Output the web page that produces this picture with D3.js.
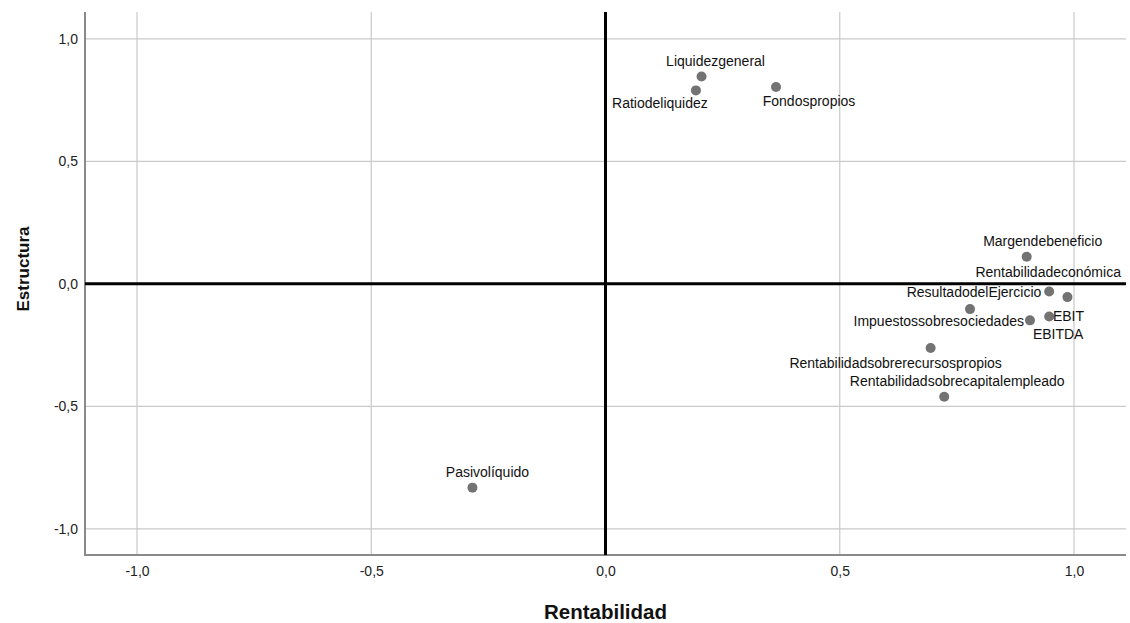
<!DOCTYPE html>
<html>
<head>
<meta charset="utf-8">
<script src="https://cdn.jsdelivr.net/npm/d3@7"></script>
<style>
  html, body { margin: 0; padding: 0; background: #fff; }
  svg { display: block; font-family: "Liberation Sans", Arial, sans-serif; }
</style>
</head>
<body>
<svg id="chart" width="1130" height="623"></svg>
<script>
// Component loadings: Rentabilidad (x) vs Estructura (y)
const variables = [
  "Liquidezgeneral", "Ratiodeliquidez", "Fondospropios",
  "Margendebeneficio", "Rentabilidadeconómica", "EBIT",
  "ResultadodelEjercicio", "EBITDA", "Impuestossobresociedades",
  "Rentabilidadsobrerecursospropios", "Rentabilidadsobrecapitalempleado",
  "Pasivolíquido"
];
const rentabilidad = [0.205, 0.193, 0.364, 0.899, 0.947, 0.986, 0.778, 0.947, 0.906, 0.694, 0.723, -0.284];
const estructura   = [0.847, 0.790, 0.804, 0.111, -0.031, -0.054, -0.103, -0.133, -0.149, -0.262, -0.461, -0.832];

const tickValues = [-1.0, -0.5, 0.0, 0.5, 1.0];
const xTitle = "Rentabilidad";
const yTitle = "Estructura";

// Label placement around each point: offset in px and anchor
const labelLayout = {
  "Liquidezgeneral": [14, -15, "middle"],
  "Ratiodeliquidez": [-36, 13, "middle"],
  "Fondospropios": [33, 14, "middle"],
  "Margendebeneficio": [16, -16, "middle"],
  "Rentabilidadeconómica": [-1, -19, "middle"],
  "EBIT": [1, 19, "middle"],
  "ResultadodelEjercicio": [4, -17, "middle"],
  "EBITDA": [9, 18, "middle"],
  "Impuestossobresociedades": [-6, 1, "end"],
  "Rentabilidadsobrerecursospropios": [-35, 15, "middle"],
  "Rentabilidadsobrecapitalempleado": [13, -16, "middle"],
  "Pasivolíquido": [15, -16, "middle"]
};

const points = variables.map((name, i) => ({ name, x: rentabilidad[i], y: estructura[i] }));

const svg = d3.select("#chart");
const plot = { left: 85, right: 1126, top: 12, bottom: 555 };

const x = d3.scaleLinear().domain([-1.111, 1.111]).range([plot.left, plot.right]);
const y = d3.scaleLinear().domain([-1.107, 1.11]).range([plot.bottom, plot.top]);

const fmt = v => d3.format(".1f")(v).replace(".", ",").replace("−", "-");

// Grid lines
const grid = svg.append("g");
grid.selectAll("line.vx").data(tickValues).join("line")
  .attr("x1", d => x(d)).attr("x2", d => x(d))
  .attr("y1", plot.top).attr("y2", plot.bottom)
  .attr("stroke", "#c9c9c9").attr("stroke-width", 1.2);
grid.selectAll("line.hy").data(tickValues).join("line")
  .attr("y1", d => y(d)).attr("y2", d => y(d))
  .attr("x1", plot.left).attr("x2", plot.right)
  .attr("stroke", "#c9c9c9").attr("stroke-width", 1.2);

// Axes (no tick marks, comma decimals)
const xAxis = d3.axisBottom(x).tickValues(tickValues).tickSize(0).tickPadding(11).tickFormat(fmt);
const yAxis = d3.axisLeft(y).tickValues(tickValues).tickSize(0).tickPadding(7).tickFormat(fmt);

const gx = svg.append("g").attr("transform", `translate(0,${plot.bottom})`).call(xAxis);
const gy = svg.append("g").attr("transform", `translate(${plot.left},0)`).call(yAxis);
[gx, gy].forEach(g => {
  g.select(".domain").remove();
  g.selectAll("text").attr("font-size", 14).attr("fill", "#222")
    .attr("font-family", "'Liberation Sans', Arial, sans-serif");
});

// Frame lines: left and bottom
svg.append("line").attr("x1", plot.left).attr("x2", plot.left)
  .attr("y1", plot.top).attr("y2", plot.bottom + 1)
  .attr("stroke", "#8a8a8a").attr("stroke-width", 2);
svg.append("line").attr("x1", plot.left).attr("x2", plot.right)
  .attr("y1", plot.bottom).attr("y2", plot.bottom)
  .attr("stroke", "#8a8a8a").attr("stroke-width", 2);

// Reference lines at zero
svg.append("line").attr("x1", x(0)).attr("x2", x(0))
  .attr("y1", plot.top).attr("y2", plot.bottom)
  .attr("stroke", "#000").attr("stroke-width", 3);
svg.append("line").attr("x1", plot.left).attr("x2", plot.right)
  .attr("y1", y(0)).attr("y2", y(0))
  .attr("stroke", "#000").attr("stroke-width", 3);

// Points
svg.append("g").selectAll("circle").data(points).join("circle")
  .attr("cx", d => x(d.x)).attr("cy", d => y(d.y))
  .attr("r", 5).attr("fill", "#737373");

// Point labels
svg.append("g").selectAll("text").data(points).join("text")
  .attr("x", d => x(d.x) + labelLayout[d.name][0])
  .attr("y", d => y(d.y) + labelLayout[d.name][1])
  .attr("text-anchor", d => labelLayout[d.name][2])
  .attr("dominant-baseline", "central")
  .attr("font-size", 14).attr("fill", "#111")
  .text(d => d.name);

// Axis titles
svg.append("text")
  .attr("x", (plot.left + plot.right) / 2).attr("y", 611)
  .attr("text-anchor", "middle").attr("dominant-baseline", "central")
  .attr("font-size", 20.5).attr("font-weight", "bold").attr("fill", "#111")
  .text(xTitle);
svg.append("text")
  .attr("transform", `translate(23,269) rotate(-90)`)
  .attr("text-anchor", "middle").attr("dominant-baseline", "central")
  .attr("font-size", 17).attr("font-weight", "bold").attr("fill", "#111")
  .text(yTitle);
</script>
</body>
</html>
